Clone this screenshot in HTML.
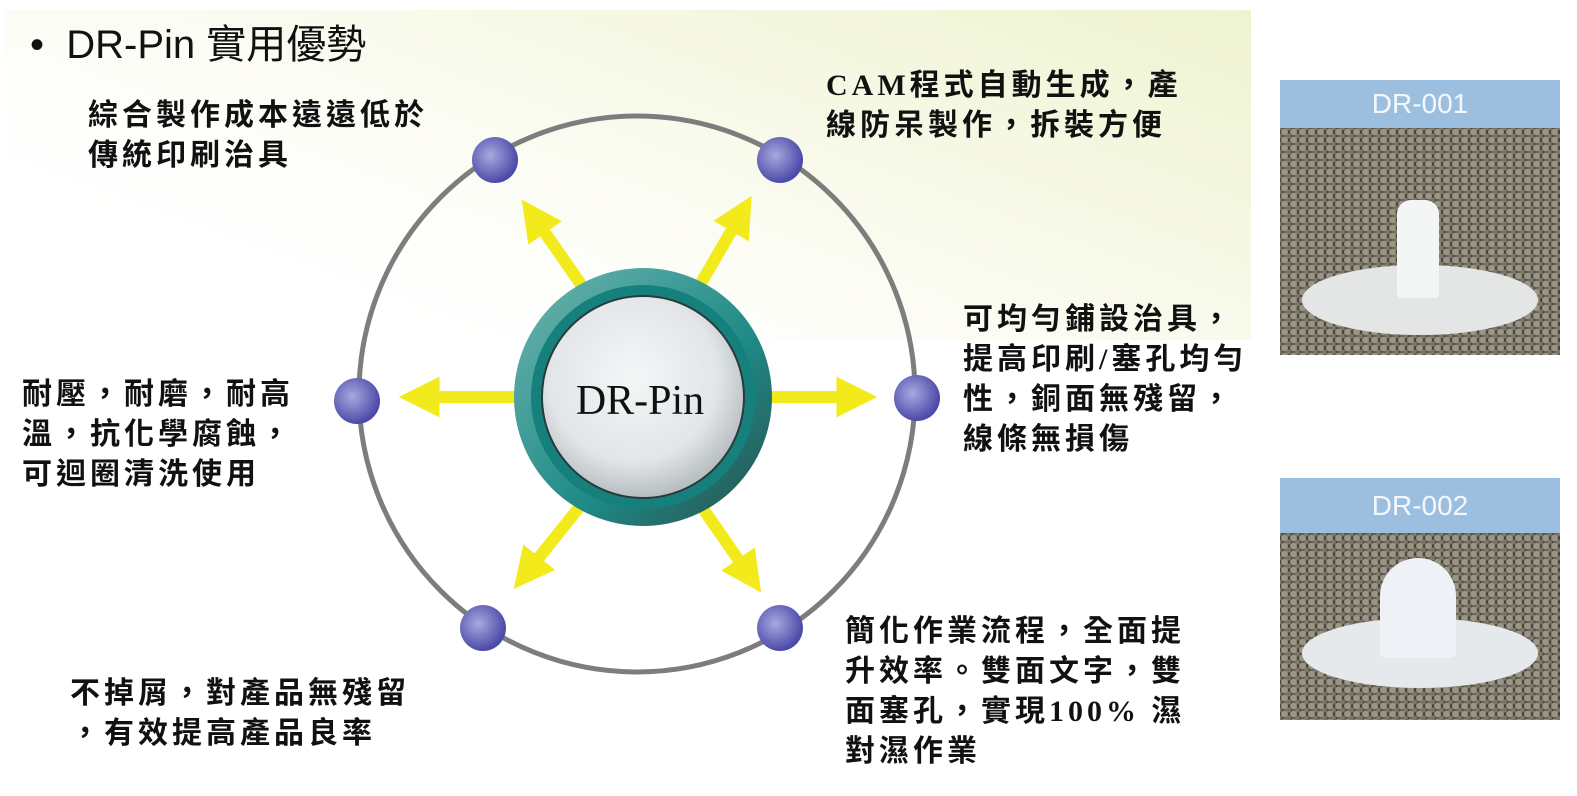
<!DOCTYPE html>
<html><head><meta charset="utf-8"><style>
body{margin:0;width:1577px;height:796px;background:#fff;position:relative;overflow:hidden}
.bg{position:absolute;left:5px;top:10px;width:1246px;height:330px;background:linear-gradient(200deg,#eef3cf 0%,#f6f8e4 30%,#fdfdf8 60%,#fff 80%)}
.t{position:absolute;font-family:"Liberation Serif","Noto Sans CJK TC",sans-serif;font-weight:bold;font-size:30px;line-height:40px;letter-spacing:4px;color:#111;white-space:nowrap}
.title{position:absolute;left:30px;top:12px;font-family:"Liberation Sans","Noto Sans CJK TC",sans-serif;font-size:40px;color:#111;white-space:nowrap}
.ph{position:absolute;left:1280px;width:280px;background:radial-gradient(circle,#9a9584 0 3px,transparent 4px) 0 0/9px 8px,radial-gradient(circle,#7c7768 0 2px,transparent 3px) 4px 4px/9px 8px,#3c3932;overflow:hidden}
.hd{height:100%;background:#9dbfdf;color:#f4f8fc;font-family:"Liberation Sans",sans-serif;font-size:28px;text-align:center}
</style></head><body>
<div class="bg"></div>
<div class="title">•&nbsp;&nbsp;DR-Pin 實用優勢</div>
<svg width="1577" height="796" style="position:absolute;left:0;top:0">
<defs>
<radialGradient id="dot" cx="40%" cy="40%" r="60%"><stop offset="0" stop-color="#a8a8e0"/><stop offset="1" stop-color="#4a4aa8"/></radialGradient>
<linearGradient id="teal" x1="0" y1="0" x2="1" y2="1"><stop offset="0" stop-color="#6fb5b0"/><stop offset="0.6" stop-color="#1e8a86"/><stop offset="1" stop-color="#2a4e4c"/></linearGradient>
<radialGradient id="inner" cx="45%" cy="40%" r="60%"><stop offset="0" stop-color="#f4f6f7"/><stop offset="0.7" stop-color="#e2e6e8"/><stop offset="1" stop-color="#b8bec2"/></radialGradient>
<marker id="ah" markerWidth="3.4" markerHeight="3.4" refX="0.3" refY="1.7" orient="auto"><path d="M0,0 L3.4,1.7 L0,3.4 Z" fill="#f2ea1a"/></marker>
</defs>
<circle cx="637" cy="394" r="278" fill="none" stroke="#7d7d7d" stroke-width="5"/>
<g stroke="#f2ea1a" stroke-width="12" marker-end="url(#ah)">
<line x1="585" y1="290" x2="543" y2="230"/>
<line x1="697" y1="290" x2="733" y2="228"/>
<line x1="520" y1="397" x2="436" y2="397"/>
<line x1="765" y1="397" x2="840" y2="397"/>
<line x1="585" y1="500" x2="537" y2="560"/>
<line x1="697" y1="500" x2="740" y2="562"/>
</g>
<g fill="url(#dot)">
<circle cx="495" cy="160" r="23"/><circle cx="780" cy="160" r="23"/>
<circle cx="357" cy="401" r="23"/><circle cx="917" cy="398" r="23"/>
<circle cx="483" cy="628" r="23"/><circle cx="780" cy="628" r="23"/>
</g>
<circle cx="643" cy="397" r="129" fill="url(#teal)"/>
<circle cx="643" cy="397" r="112" fill="#16807d"/>
<circle cx="643" cy="397" r="102" fill="#2a3a3a"/>
<circle cx="643" cy="397" r="100" fill="url(#inner)"/>
<text x="640" y="414" text-anchor="middle" font-family="Liberation Serif,serif" font-size="42" fill="#111">DR-Pin</text>
</svg>
<div class="t" style="left:88px;top:96px">綜合製作成本遠遠低於<br>傳統印刷治具</div>
<div class="t" style="left:826px;top:66px">CAM程式自動生成，產<br>線防呆製作，拆裝方便</div>
<div class="t" style="left:963px;top:300px">可均勻鋪設治具，<br>提高印刷/塞孔均勻<br>性，銅面無殘留，<br>線條無損傷</div>
<div class="t" style="left:22px;top:375px">耐壓，耐磨，耐高<br>溫，抗化學腐蝕，<br>可迴圈清洗使用</div>
<div class="t" style="left:70px;top:674px">不掉屑，對產品無殘留<br>，有效提高產品良率</div>
<div class="t" style="left:845px;top:612px">簡化作業流程，全面提<br>升效率。雙面文字，雙<br>面塞孔，實現100% 濕<br>對濕作業</div>
<div class="ph" style="top:80px;height:275px">
<div class="hd" style="height:48px;line-height:48px">DR-001</div>
<div style="position:absolute;left:22px;top:185px;width:236px;height:70px;border-radius:50%;background:#e4e6e6"></div>
<div style="position:absolute;left:117px;top:120px;width:42px;height:98px;border-radius:14px 14px 4px 4px;background:#f4f6f6"></div>
</div>
<div class="ph" style="top:478px;height:242px">
<div class="hd" style="height:55px;line-height:55px">DR-002</div>
<div style="position:absolute;left:22px;top:140px;width:236px;height:70px;border-radius:50%;background:#e6e9ec"></div>
<div style="position:absolute;left:100px;top:80px;width:76px;height:100px;border-radius:38px 38px 6px 6px;background:#eef1f6"></div>
</div>
</body></html>
